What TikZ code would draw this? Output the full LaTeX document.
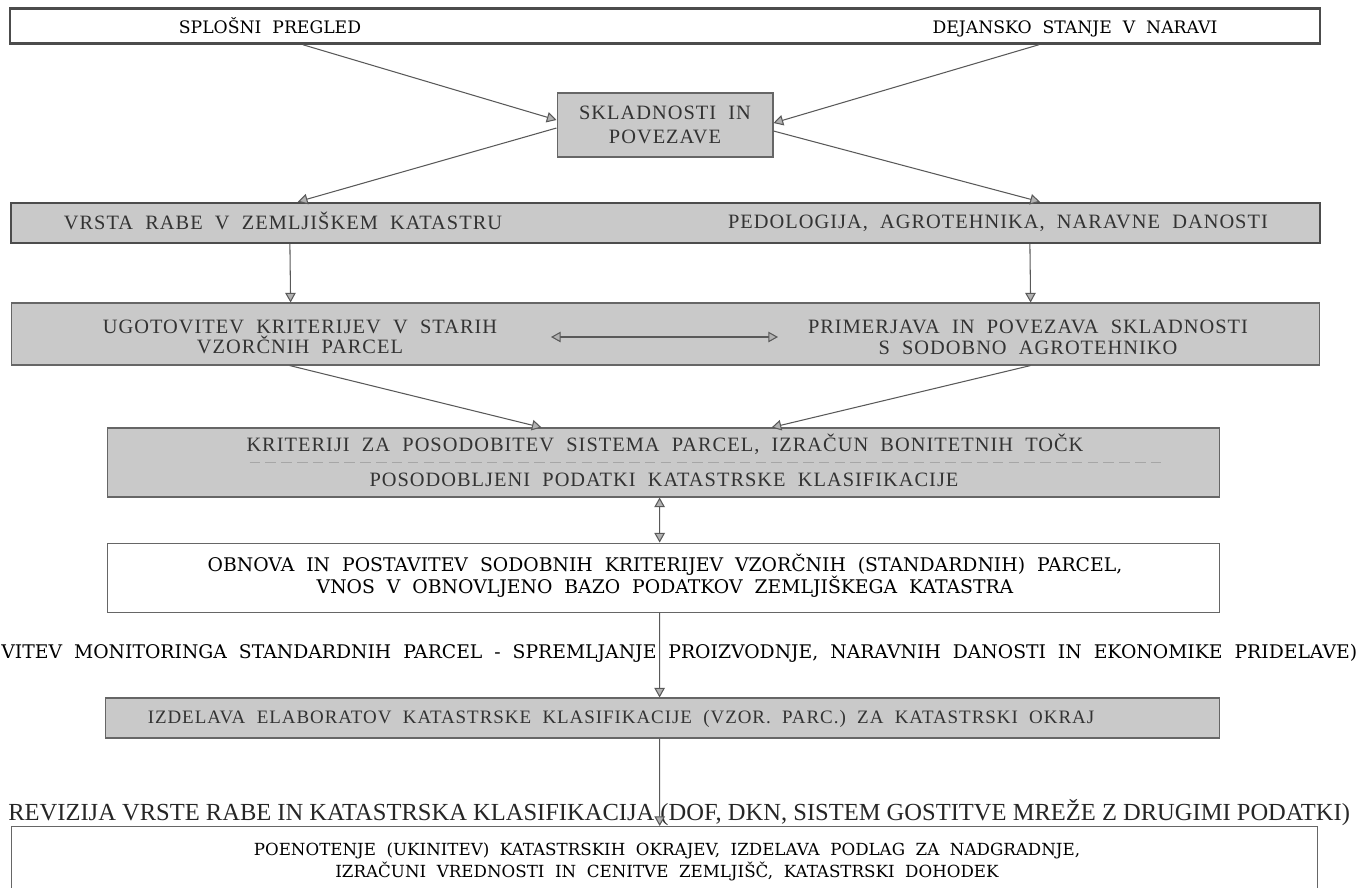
\documentclass[tikz,border=0pt]{standalone}
\usepackage{fontspec}
\setmainfont{Liberation Serif}
\newfontfamily\cent{DejaVu Serif}
\newfontfamily\spaced[LetterSpace=5]{Liberation Serif}
\usetikzlibrary{arrows.meta,calc}
\begin{document}
\begin{tikzpicture}[x=0.02cm,y=-0.02cm,
  conn/.style={draw=black!65, line width=0.6pt, -{Triangle[length=5.5pt,width=6pt,fill=black!30]}},
  dconn/.style={draw=black!65, line width=0.6pt, {Triangle[length=5.5pt,width=6pt,fill=black!30]}-{Triangle[length=5.5pt,width=6pt,fill=black!30]}},
  shadedbox/.style={draw=black!60, fill=black!21, line width=0.6pt, inner sep=0pt},
  heavybox/.style={draw=black!70, line width=1.4pt, inner sep=0pt},
  plainbox/.style={draw=black!60, line width=0.5pt, fill=white, inner sep=0pt},
  txt/.style={font=\spaced\fontsize{11.6}{11.8}\selectfont, text=black!80, align=center, inner sep=1pt},
  ctxt/.style={font=\cent\fontsize{9.8}{12.5}\selectfont, text=black, align=center, inner sep=1pt}
]
\useasboundingbox (0,0) rectangle (1359,887);
\clip (0,0) rectangle (1359,887);

% top
\node[heavybox, fill=white, minimum width=26.2cm, minimum height=0.7cm] (top) at (665,26) {};
\node[ctxt] (splosni) at (270,29) {\strut SPLOŠNI\ \ PREGLED};
\node[ctxt] (dejansko) at (1075,29) {\strut DEJANSKO\ \ STANJE\ \ V\ \ NARAVI};

% skladnosti
\node[shadedbox, txt, font=\spaced\fontsize{11.6}{14}\selectfont, minimum width=4.32cm, minimum height=1.28cm] (skl) at (665,125) {SKLADNOSTI\ \ IN\\POVEZAVE};

% row 2
\node[heavybox, fill=black!21, minimum width=26.18cm, minimum height=0.8cm] (r2) at (665.5,223) {};
\node[txt] (vrsta) at (283,224) {\strut VRSTA\ \ RABE\ \ V\ \ ZEMLJIŠKEM\ \ KATASTRU};
\node[txt] (pedo) at (998,224) {\strut PEDOLOGIJA,\ \ AGROTEHNIKA,\ \ NARAVNE\ \ DANOSTI};

% row 3
\node[shadedbox, minimum width=26.18cm, minimum height=1.24cm] (r3) at (665.5,334) {};
\node[txt] (ugot) at (300,337) {UGOTOVITEV\ \ KRITERIJEV\ \ V\ \ STARIH\\VZORČNIH\ \ PARCEL};
\node[txt] (prim) at (1028,337) {PRIMERJAVA\ \ IN\ \ POVEZAVA\ \ SKLADNOSTI\\S\ \ SODOBNO\ \ AGROTEHNIKO};
\coordinate (dl) at (551,337);
\coordinate (dr) at (778,337);

% row 4
\node[shadedbox, minimum width=22.26cm, minimum height=1.38cm] (r4) at (663.5,462.5) {};
\node[txt] (krit) at (665,446) {\strut KRITERIJI\ \ ZA\ \ POSODOBITEV\ \ SISTEMA\ \ PARCEL,\ \ IZRAČUN\ \ BONITETNIH\ \ TOČK};
\node[txt] (posod) at (664,482) {\strut POSODOBLJENI\ \ PODATKI\ \ KATASTRSKE\ \ KLASIFIKACIJE};
\draw[black!35, dash pattern=on 6pt off 3pt, line width=0.4pt] ($(r4.west)+(143,0)$) -- ($(r4.east)+(-55,0)$);

% row 5
\node[plainbox, minimum width=22.26cm, minimum height=1.38cm] (r5) at (663.5,577.5) {};
\node[ctxt, font=\cent\fontsize{10.7}{12.5}\selectfont] (obnova) at (665,576) {OBNOVA\ \ IN\ \ POSTAVITEV\ \ SODOBNIH\ \ KRITERIJEV\ \ VZORČNIH\ \ (STANDARDNIH)\ \ PARCEL,\\VNOS\ \ V\ \ OBNOVLJENO\ \ BAZO\ \ PODATKOV\ \ ZEMLJIŠKEGA\ \ KATASTRA};

% monitoring line
\node[ctxt, anchor=west, inner sep=0pt] (mon) at (1,653) {\resizebox{27.12cm}{!}{VITEV\ \ MONITORINGA\ \ STANDARDNIH\ \ PARCEL\ \ -\ \ SPREMLJANJE\ \ PROIZVODNJE,\ \ NARAVNIH\ \ DANOSTI\ \ IN\ \ EKONOMIKE\ \ PRIDELAVE)}};

% row 6
\node[shadedbox, minimum width=22.3cm, minimum height=0.8cm] (r6) at (662.5,718) {};
\node[txt, font=\spaced\fontsize{10.8}{11.8}\selectfont] (izd) at (621,719) {\strut IZDELAVA\ \ ELABORATOV\ \ KATASTRSKE\ \ KLASIFIKACIJE\ \ (VZOR.\ \ PARC.)\ \ ZA\ \ KATASTRSKI\ \ OKRAJ};

% revizija line
\node[anchor=west, inner sep=0pt, text=black!85] (rev) at (8,813) {\resizebox{26.84cm}{!}{REVIZIJA\ VRSTE\ RABE\ IN\ KATASTRSKA\ KLASIFIKACIJA\ (DOF,\ DKN,\ SISTEM\ GOSTITVE\ MREŽE\ Z\ DRUGIMI\ PODATKI)}};

% bottom box
\node[plainbox, minimum width=26.14cm, minimum height=1.8cm, anchor=north] (bot) at (664.5,826) {};
\node[ctxt, font=\cent\fontsize{9.5}{12.5}\selectfont] (poen) at (667,862) {POENOTENJE\ \ (UKINITEV)\ \ KATASTRSKIH\ \ OKRAJEV,\ \ IZDELAVA\ \ PODLAG\ \ ZA\ \ NADGRADNJE,\\IZRAČUNI\ \ VREDNOSTI\ \ IN\ \ CENITVE\ \ ZEMLJIŠČ,\ \ KATASTRSKI\ \ DOHODEK};

% connectors
\draw[conn] ($(top.south west)+(294,0)$) -- ($(skl.west)+(0,-5)$);
\draw[conn] ($(top.south west)+(1030,0)$) -- ($(skl.east)+(0,-2)$);
\draw[conn] ($(skl.west)+(0,3)$) -- ($(r2.north west)+(288,0)$);
\draw[conn] ($(skl.east)+(0,6)$) -- ($(r2.north west)+(1030,0)$);
\draw[conn] ($(r2.south west)+(280,0)$) -- ($(r3.north west)+(280,0)$);
\draw[conn] ($(r2.south west)+(1020,0)$) -- ($(r3.north west)+(1020,0)$);
\draw[dconn] (dl) -- (dr);
\draw[conn] ($(r3.south west)+(279,0)$) -- ($(r4.north west)+(435,0)$);
\draw[conn] ($(r3.south west)+(1020,0)$) -- ($(r4.north west)+(665,0)$);
\draw[dconn] ($(r4.south west)+(553,0)$) -- ($(r5.north west)+(553,0)$);
\draw[conn] ($(r5.south west)+(553,0)$) -- ($(r6.north west)+(555,0)$);
\draw[conn] ($(r6.south west)+(555,0)$) -- ($(bot.north west)+(649,0)$);
\end{tikzpicture}
\end{document}
